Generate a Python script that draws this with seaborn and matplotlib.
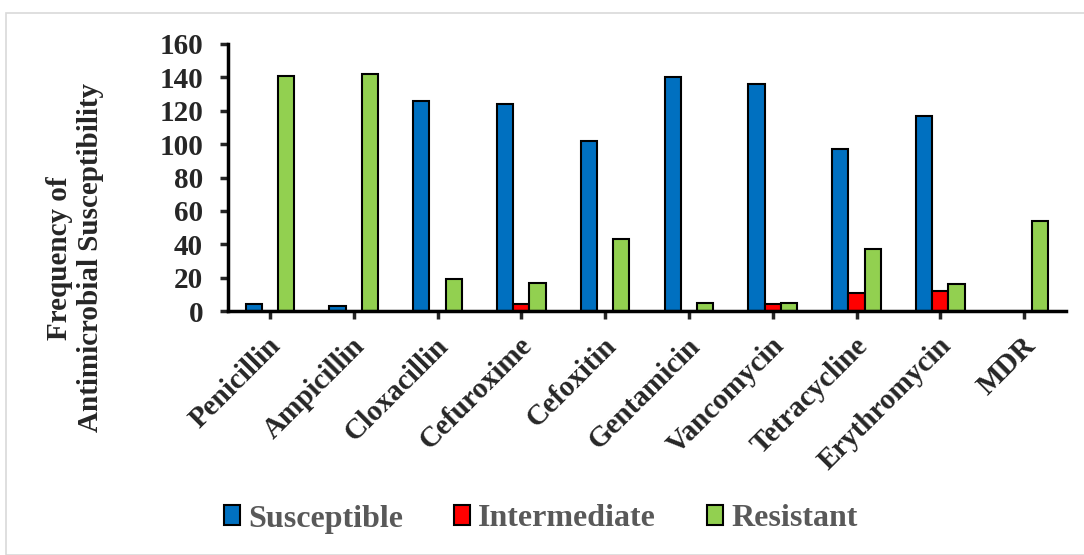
import matplotlib
matplotlib.use('Agg')
import matplotlib.pyplot as plt
import matplotlib.transforms as mtransforms
import seaborn as sns
import pandas as pd
from matplotlib.patches import Rectangle

drugs = ['Penicillin', 'Ampicillin', 'Cloxacillin', 'Cefuroxime', 'Cefoxitin',
         'Gentamicin', 'Vancomycin', 'Tetracycline', 'Erythromycin', 'MDR']
susceptible = [4, 3, 126, 124, 102, 140, 136, 97, 117, 0]
intermediate = [0, 0, 0, 4, 0, 0, 4, 11, 12, 0]
resistant = [141, 142, 19, 17, 43, 5, 5, 37, 16, 54]
statuses = ['Susceptible', 'Intermediate', 'Resistant']
colors = ['#0070C0', '#FF0000', '#92D050']

df = pd.DataFrame({'Drug': drugs * 3,
                   'Status': [s for s in statuses for _ in drugs],
                   'Count': susceptible + intermediate + resistant})

sns.set_style('white')
plt.rcParams['font.family'] = ['Liberation Serif', 'DejaVu Serif']
plt.rcParams['font.weight'] = 'bold'

fig = plt.figure(figsize=(10.84, 5.55), dpi=100)
ax = fig.add_axes([228 / 1084, 1 - 311 / 555, (1066 - 228) / 1084, (311 - 44) / 555])

sns.barplot(data=df, x='Drug', y='Count', hue='Status', palette=colors, saturation=1,
            width=0.58, edgecolor='black', linewidth=1.5, ax=ax, legend=False)

ax.set_ylim(0, 160)
ax.set_xlim(-0.5, 9.5)
ax.set_yticks(range(0, 161, 20))
ax.tick_params(axis='y', labelsize=21, length=6, width=2.5, direction='out', left=True, pad=12)
ax.tick_params(axis='x', labelsize=21, length=6, width=2.5, direction='out', bottom=True, pad=16)
shift = mtransforms.ScaledTranslation(7 / 100, 0, fig.dpi_scale_trans)
for lab in ax.get_xticklabels():
    lab.set_rotation(45)
    lab.set_ha('right')
    lab.set_va('center')
    lab.set_rotation_mode('anchor')
    lab.set_transform(lab.get_transform() + shift)
for lab in ax.get_xticklabels() + ax.get_yticklabels():
    lab.set_fontweight('bold')
for side in ['top', 'right']:
    ax.spines[side].set_visible(False)
for side in ['left', 'bottom']:
    ax.spines[side].set_linewidth(2.5)
    ax.spines[side].set_color('black')
ax.set_xlabel('')
ax.set_ylabel('')
fig.text(75 / 1084, 1 - 258 / 555, 'Frequency of\nAntimicrobial Susceptibility', rotation=90,
         ha='center', va='center', multialignment='center', fontsize=21, fontweight='bold',
         linespacing=1.15)

handles = [Rectangle((0, 0), 1, 1, facecolor=c, edgecolor='black', linewidth=1.5) for c in colors]
leg = fig.legend(handles, statuses, loc='center', bbox_to_anchor=(541 / 1084, 1 - 519 / 555), ncol=3,
                 frameon=False, fontsize=23, handlelength=0.5, handleheight=0.6,
                 handletextpad=0.25, columnspacing=1.6)
for t in leg.get_texts():
    t.set_color('#595959')
    t.set_fontweight('bold')

fig.patches.append(Rectangle((6 / 1084, 0), 1, 1 - 13 / 555, transform=fig.transFigure,
                             fill=False, edgecolor='#D9D9D9', linewidth=1.2))

fig.savefig('out.png', dpi=100)
